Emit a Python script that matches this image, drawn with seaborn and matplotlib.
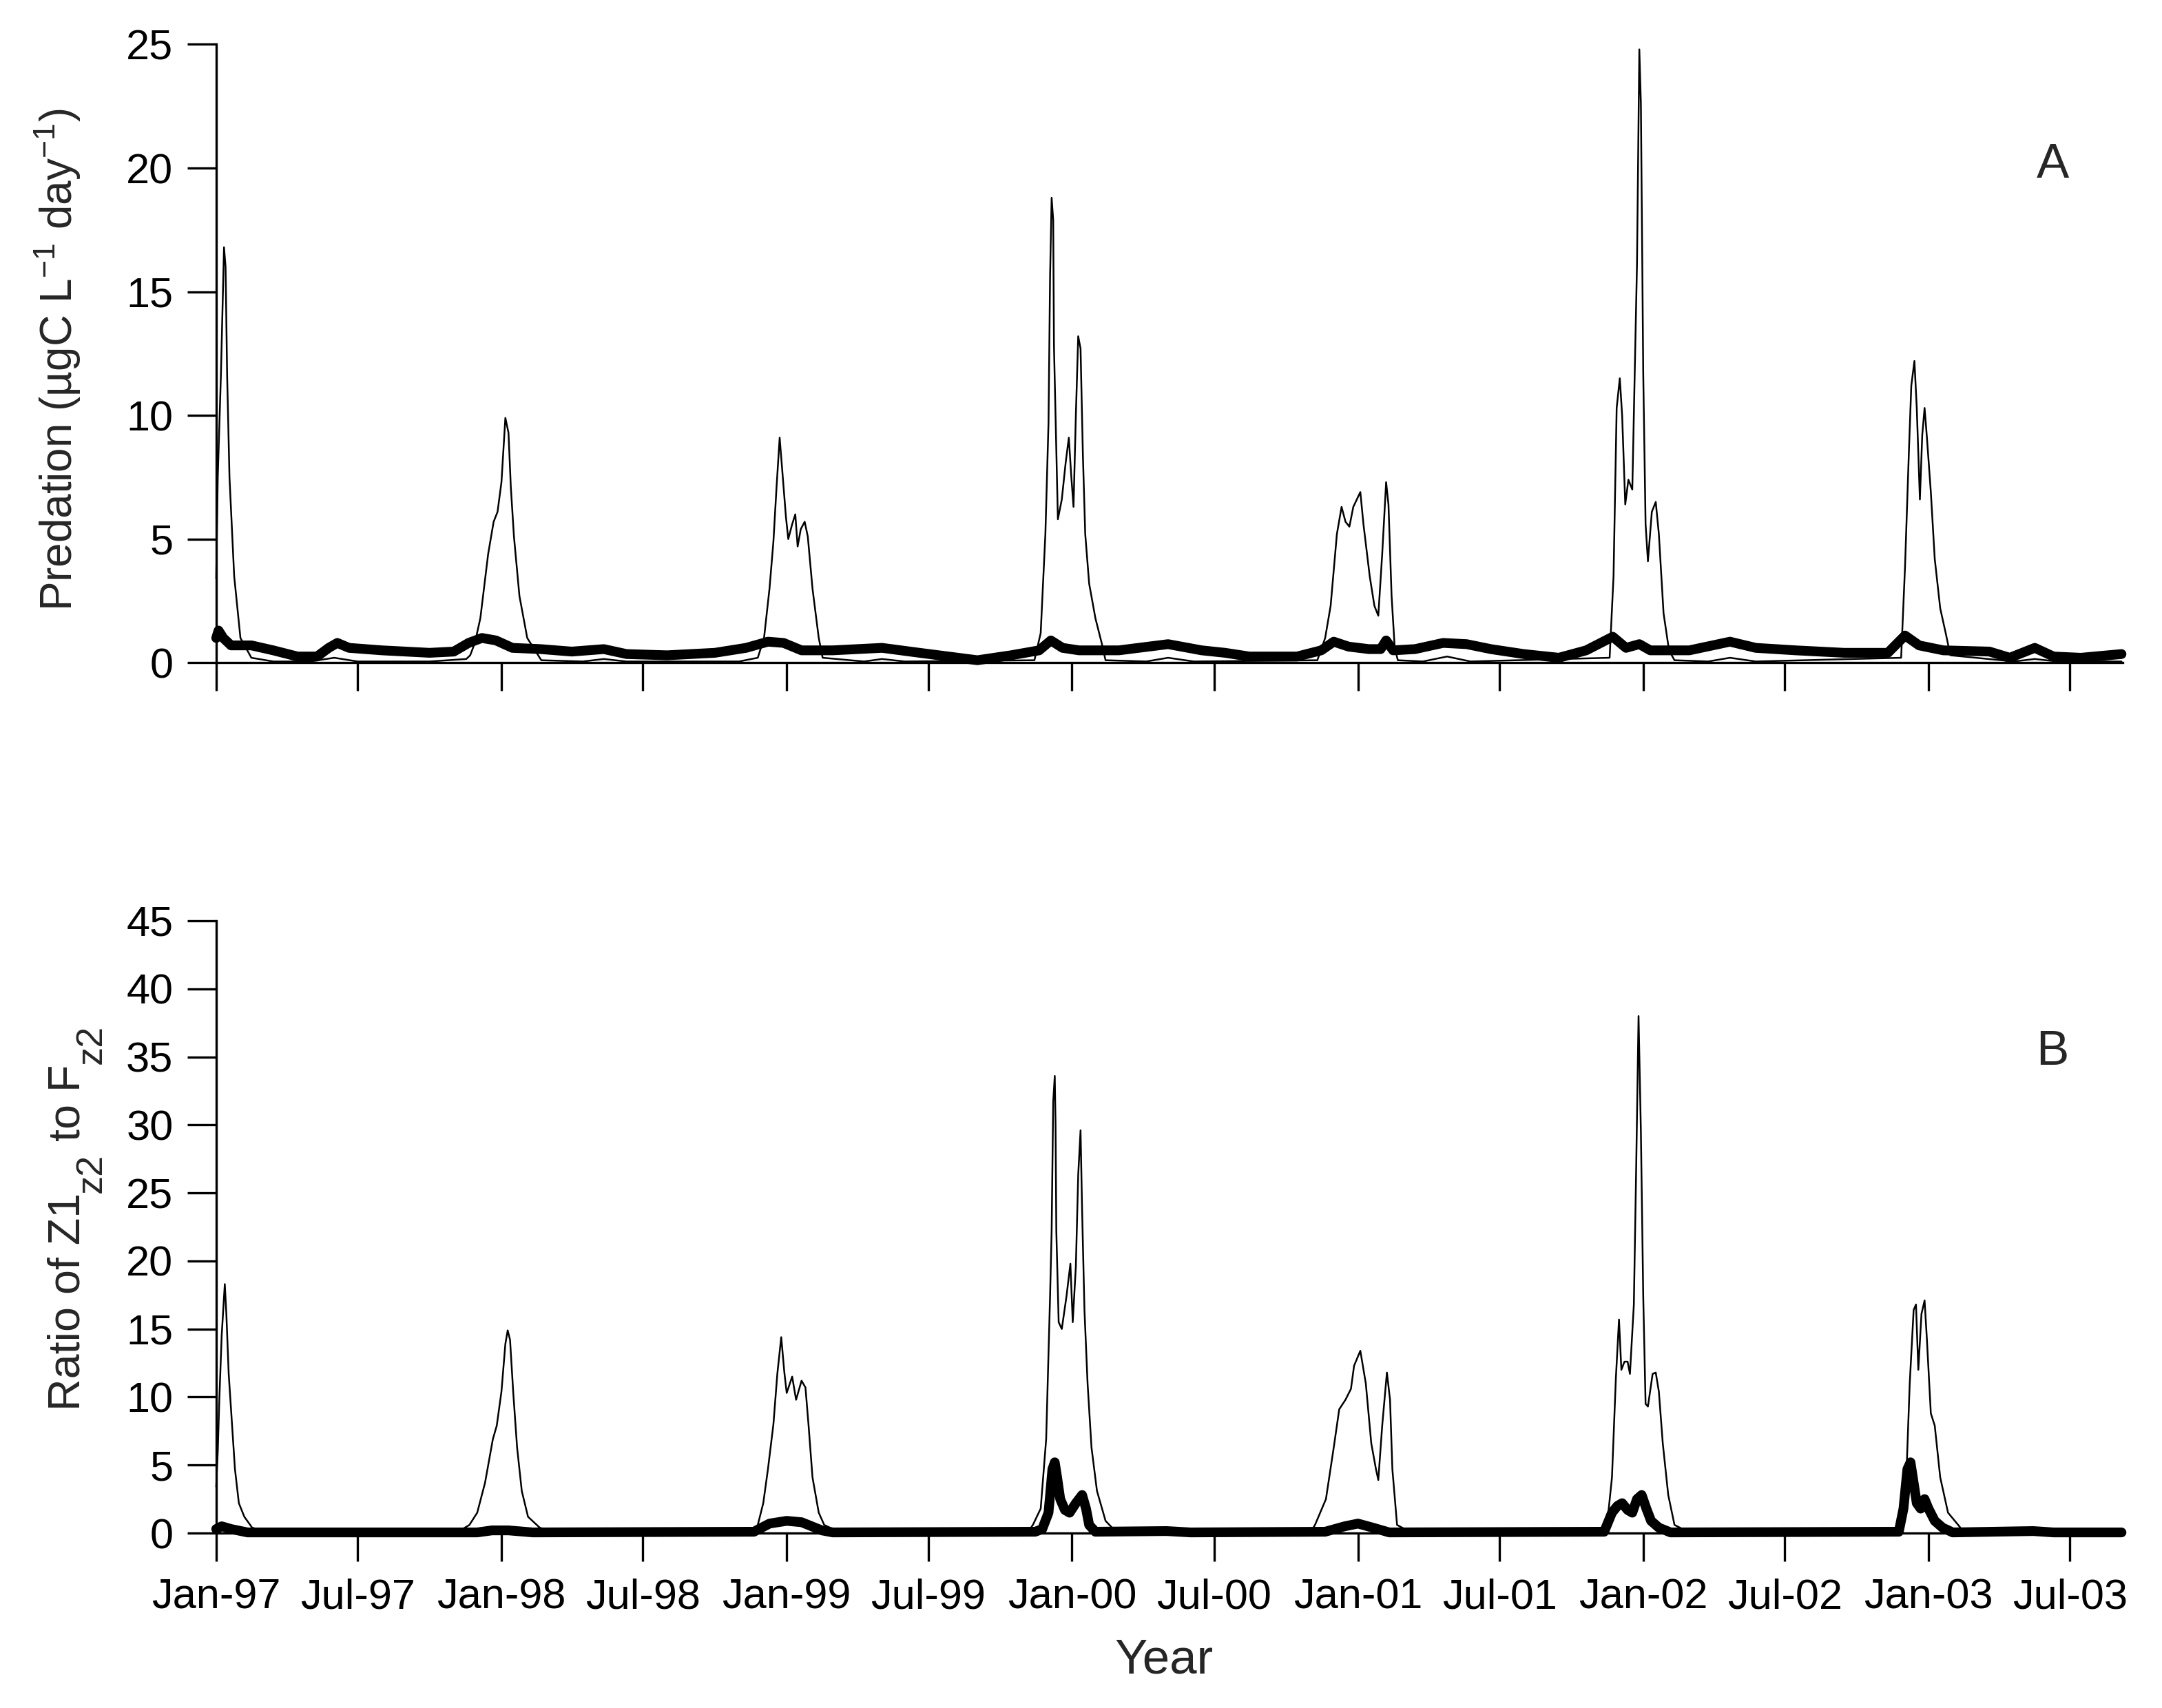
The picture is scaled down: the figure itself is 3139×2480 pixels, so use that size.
import pandas as pd
import numpy as np
import matplotlib
matplotlib.use("Agg")
import matplotlib.pyplot as plt
import matplotlib.dates as mdates
from matplotlib.transforms import IdentityTransform
import seaborn as sns

# panel A, thin line (predation, first predator)
a_thin_dates = ["1997-01-01", "1997-01-03", "1997-01-07", "1997-01-11", "1997-01-13", "1997-01-15",
                "1997-01-18", "1997-01-24", "1997-02-01", "1997-02-15", "1997-03-15", "1997-05-01",
                "1997-06-01", "1997-07-01", "1997-10-01", "1997-11-17", "1997-11-22", "1997-11-28",
                "1997-12-05", "1997-12-15", "1997-12-22", "1997-12-27", "1998-01-01", "1998-01-06",
                "1998-01-10", "1998-01-13", "1998-01-17", "1998-01-24", "1998-02-03", "1998-02-21",
                "1998-04-15", "1998-05-12", "1998-06-10", "1998-11-01", "1998-11-25", "1998-12-03",
                "1998-12-10", "1998-12-15", "1998-12-19", "1998-12-23", "1998-12-28", "1998-12-31",
                "1999-01-03", "1999-01-08", "1999-01-12", "1999-01-15", "1999-01-19", "1999-01-24",
                "1999-01-28", "1999-02-03", "1999-02-11", "1999-02-16", "1999-04-10", "1999-05-03",
                "1999-06-01", "1999-11-14", "1999-11-22", "1999-11-28", "1999-12-02", "1999-12-04",
                "1999-12-06", "1999-12-08", "1999-12-09", "1999-12-12", "1999-12-14", "1999-12-19",
                "1999-12-24", "1999-12-28", "1999-12-31", "2000-01-03", "2000-01-06", "2000-01-09",
                "2000-01-12", "2000-01-15", "2000-01-18", "2000-01-23", "2000-01-31", "2000-02-08",
                "2000-02-13", "2000-04-05", "2000-05-03", "2000-06-05", "2000-11-10", "2000-11-20",
                "2000-11-27", "2000-12-05", "2000-12-11", "2000-12-16", "2000-12-21", "2000-12-26",
                "2001-01-04", "2001-01-08", "2001-01-16", "2001-01-22", "2001-01-27", "2001-02-01",
                "2001-02-06", "2001-02-09", "2001-02-13", "2001-02-17", "2001-02-21", "2001-03-25",
                "2001-04-25", "2001-05-25", "2001-11-19", "2001-11-24", "2001-11-28", "2001-12-02",
                "2001-12-05", "2001-12-09", "2001-12-13", "2001-12-18", "2001-12-21", "2001-12-24",
                "2001-12-27", "2001-12-29", "2002-01-01", "2002-01-04", "2002-01-07", "2002-01-12",
                "2002-01-17", "2002-01-21", "2002-01-27", "2002-02-03", "2002-02-10", "2002-03-25",
                "2002-04-22", "2002-05-25", "2002-11-27", "2002-12-02", "2002-12-07", "2002-12-10",
                "2002-12-14", "2002-12-17", "2002-12-21", "2002-12-24", "2002-12-27", "2002-12-30",
                "2003-01-04", "2003-01-09", "2003-01-16", "2003-01-23", "2003-01-29", "2003-04-20",
                "2003-05-17", "2003-06-15", "2003-09-05"]
a_thin_vals = [3.4, 7.5, 11.6, 16.8, 16.0, 11.6,
               7.5, 3.5, 1.0, 0.2, 0.05, 0.05,
               0.2, 0.05, 0.05, 0.15, 0.3, 0.8,
               1.8, 4.4, 5.7, 6.1, 7.3, 9.9,
               9.3, 7.1, 5.1, 2.7, 1.0, 0.1,
               0.05, 0.15, 0.05, 0.05, 0.2, 1.0,
               3.0, 4.9, 7.1, 9.1, 7.1, 5.9,
               5.0, 5.6, 6.0, 4.7, 5.4, 5.7,
               5.1, 3.0, 1.0, 0.2, 0.05, 0.15,
               0.05, 0.1, 1.2, 5.2, 9.7, 15.6,
               18.8, 17.9, 12.8, 8.6, 5.8, 6.6,
               8.1, 9.1, 7.6, 6.3, 10.0, 13.2,
               12.7, 8.4, 5.2, 3.2, 1.8, 0.8,
               0.1, 0.05, 0.2, 0.05, 0.1, 1.0,
               2.3, 5.2, 6.3, 5.7, 5.5, 6.3,
               6.9, 5.6, 3.5, 2.3, 1.9, 4.4,
               7.3, 6.4, 2.7, 0.6, 0.1, 0.05,
               0.25, 0.05, 0.2, 3.5, 10.3, 11.5,
               10.0, 6.4, 7.4, 7.0, 11.5, 16.1,
               24.8, 22.6, 11.7, 5.6, 4.1, 6.1,
               6.5, 5.2, 2.0, 0.5, 0.1, 0.05,
               0.2, 0.05, 0.2, 3.9, 8.6, 11.2,
               12.2, 10.3, 6.6, 9.2, 10.3, 9.1,
               6.9, 4.2, 2.2, 1.2, 0.3, 0.05,
               0.15, 0.05, 0.05]

# panel A, thick line
a_thick_dates = ["1997-01-01", "1997-01-04", "1997-01-10", "1997-01-20", "1997-02-15", "1997-03-15",
                 "1997-04-15", "1997-05-10", "1997-05-25", "1997-06-05", "1997-06-20", "1997-08-01",
                 "1997-10-01", "1997-11-01", "1997-11-20", "1997-12-07", "1997-12-25", "1998-01-15",
                 "1998-02-20", "1998-04-01", "1998-05-12", "1998-06-10", "1998-08-01", "1998-10-01",
                 "1998-11-10", "1998-12-08", "1998-12-28", "1999-01-20", "1999-03-01", "1999-05-03",
                 "1999-06-20", "1999-09-02", "1999-10-15", "1999-11-20", "1999-12-05", "1999-12-20",
                 "2000-01-10", "2000-03-01", "2000-05-03", "2000-06-15", "2000-07-15", "2000-08-15",
                 "2000-10-15", "2000-11-15", "2000-12-01", "2000-12-20", "2001-01-15", "2001-01-30",
                 "2001-02-06", "2001-02-15", "2001-03-15", "2001-04-20", "2001-05-20", "2001-06-20",
                 "2001-08-01", "2001-09-15", "2001-10-20", "2001-11-23", "2001-12-10", "2001-12-27",
                 "2002-01-10", "2002-03-01", "2002-04-22", "2002-05-25", "2002-07-15", "2002-09-15",
                 "2002-11-10", "2002-12-02", "2002-12-20", "2003-01-20", "2003-03-20", "2003-04-15",
                 "2003-05-17", "2003-06-10", "2003-07-15", "2003-09-05"]
a_thick_vals = [1.0, 1.3, 1.0, 0.7, 0.7, 0.5,
                0.25, 0.25, 0.6, 0.8, 0.6, 0.5,
                0.4, 0.45, 0.8, 1.0, 0.9, 0.6,
                0.55, 0.45, 0.55, 0.35, 0.3, 0.4,
                0.6, 0.85, 0.8, 0.5, 0.5, 0.6,
                0.4, 0.1, 0.3, 0.5, 0.9, 0.6,
                0.5, 0.5, 0.75, 0.5, 0.4, 0.25,
                0.25, 0.5, 0.85, 0.65, 0.55, 0.55,
                0.9, 0.5, 0.55, 0.8, 0.75, 0.55,
                0.35, 0.2, 0.5, 1.05, 0.6, 0.75,
                0.5, 0.5, 0.85, 0.6, 0.5, 0.4,
                0.4, 1.1, 0.7, 0.5, 0.45, 0.2,
                0.6, 0.25, 0.2, 0.35]

# panel B, thin line (ratio)
b_thin_dates = ["1997-01-01", "1997-01-03", "1997-01-05", "1997-01-08", "1997-01-12", "1997-01-14",
                "1997-01-17", "1997-01-21", "1997-01-25", "1997-01-30", "1997-02-06", "1997-02-16",
                "1997-03-10", "1997-11-05", "1997-11-21", "1997-12-01", "1997-12-11", "1997-12-21",
                "1997-12-26", "1998-01-01", "1998-01-06", "1998-01-09", "1998-01-12", "1998-01-16",
                "1998-01-21", "1998-01-27", "1998-02-04", "1998-02-19", "1998-03-10", "1998-11-15",
                "1998-11-25", "1998-12-02", "1998-12-08", "1998-12-15", "1998-12-20", "1998-12-25",
                "1998-12-29", "1999-01-01", "1999-01-08", "1999-01-13", "1999-01-20", "1999-01-25",
                "1999-01-29", "1999-02-03", "1999-02-11", "1999-02-18", "1999-03-10", "1999-11-05",
                "1999-11-12", "1999-11-22", "1999-11-29", "1999-12-04", "1999-12-06", "1999-12-08",
                "1999-12-10", "1999-12-11", "1999-12-12", "1999-12-15", "1999-12-19", "1999-12-25",
                "1999-12-30", "2000-01-02", "2000-01-06", "2000-01-09", "2000-01-12", "2000-01-14",
                "2000-01-17", "2000-01-21", "2000-01-26", "2000-02-02", "2000-02-13", "2000-02-23",
                "2000-03-15", "2000-11-01", "2000-11-07", "2000-11-21", "2000-12-01", "2000-12-08",
                "2000-12-16", "2000-12-23", "2000-12-27", "2001-01-04", "2001-01-11", "2001-01-18",
                "2001-01-24", "2001-01-27", "2001-02-01", "2001-02-07", "2001-02-11", "2001-02-14",
                "2001-02-20", "2001-03-10", "2001-11-15", "2001-11-22", "2001-11-27", "2001-12-01",
                "2001-12-04", "2001-12-08", "2001-12-12", "2001-12-15", "2001-12-20", "2001-12-23",
                "2001-12-26", "2001-12-29", "2002-01-01", "2002-01-04", "2002-01-07", "2002-01-13",
                "2002-01-17", "2002-01-21", "2002-01-26", "2002-02-02", "2002-02-10", "2002-03-01",
                "2002-11-20", "2002-11-24", "2002-12-04", "2002-12-08", "2002-12-13", "2002-12-16",
                "2002-12-19", "2002-12-23", "2002-12-27", "2002-12-30", "2003-01-04", "2003-01-09",
                "2003-01-16", "2003-01-26", "2003-02-08", "2003-02-15", "2003-09-05"]
b_thin_vals = [3.4, 6.0, 9.8, 14.5, 18.3, 16.1,
               11.7, 8.2, 4.7, 2.2, 1.2, 0.4,
               0.05, 0.05, 0.6, 1.5, 3.7, 6.9,
               7.9, 10.4, 13.9, 14.9, 14.2, 10.4,
               6.3, 3.1, 1.2, 0.4, 0.05, 0.05,
               0.6, 2.2, 4.7, 8.0, 11.7, 14.4,
               11.8, 10.3, 11.5, 9.8, 11.2, 10.7,
               7.9, 4.1, 1.5, 0.6, 0.05, 0.05,
               0.6, 1.8, 6.9, 17.4, 22.2, 31.7,
               33.6, 30.1, 22.2, 15.5, 15.0, 17.4,
               19.8, 15.5, 19.6, 26.3, 29.6, 23.7,
               16.4, 11.0, 6.3, 3.1, 0.9, 0.3,
               0.05, 0.05, 0.6, 2.5, 6.3, 9.1,
               9.8, 10.6, 12.3, 13.4, 11.0, 6.6,
               4.7, 3.9, 7.9, 11.8, 9.8, 4.7,
               0.6, 0.05, 0.2, 4.1, 11.4, 15.7,
               12.0, 12.6, 12.6, 11.7, 16.8, 26.9,
               38.0, 29.5, 17.4, 9.5, 9.3, 11.7,
               11.8, 10.4, 6.6, 2.8, 0.6, 0.05,
               0.05, 0.5, 4.7, 11.0, 16.4, 16.8,
               12.0, 16.1, 17.1, 14.2, 8.8, 7.9,
               4.1, 1.5, 0.6, 0.1, 0.05]

# panel B, thick line
b_thick_dates = ["1997-01-01", "1997-01-08", "1997-01-20", "1997-02-10", "1997-12-01", "1997-12-20",
                 "1998-01-10", "1998-02-10", "1998-11-20", "1998-12-10", "1999-01-01", "1999-01-20",
                 "1999-02-15", "1999-03-01", "1999-11-15", "1999-11-24", "1999-12-02", "1999-12-07",
                 "1999-12-10", "1999-12-13", "1999-12-17", "1999-12-23", "1999-12-29", "2000-01-06",
                 "2000-01-14", "2000-01-19", "2000-01-23", "2000-01-31", "2000-05-01", "2000-06-01",
                 "2000-11-20", "2000-12-15", "2001-01-01", "2001-01-20", "2001-02-10", "2001-11-12",
                 "2001-11-22", "2001-11-29", "2001-12-05", "2001-12-12", "2001-12-18", "2001-12-24",
                 "2001-12-30", "2002-01-05", "2002-01-11", "2002-01-21", "2002-02-05", "2002-11-24",
                 "2002-11-30", "2002-12-05", "2002-12-09", "2002-12-13", "2002-12-17", "2002-12-22",
                 "2002-12-27", "2003-01-01", "2003-01-09", "2003-01-19", "2003-02-01", "2003-05-15",
                 "2003-06-10", "2003-09-05"]
b_thick_vals = [0.3, 0.5, 0.3, 0.05, 0.05, 0.2,
                0.2, 0.05, 0.1, 0.7, 0.9, 0.8,
                0.2, 0.05, 0.1, 0.3, 1.5, 4.7,
                5.2, 4.1, 2.5, 1.7, 1.5, 2.2,
                2.8, 1.8, 0.6, 0.1, 0.15, 0.05,
                0.1, 0.5, 0.7, 0.4, 0.05, 0.1,
                1.5, 2.0, 2.2, 1.7, 1.5, 2.5,
                2.8, 1.8, 0.9, 0.4, 0.05, 0.1,
                1.8, 4.7, 5.2, 3.7, 2.2, 1.8,
                2.5, 1.8, 0.9, 0.4, 0.05, 0.15,
                0.05, 0.05]

tick_dates = pd.date_range("1997-01-01", "2003-07-01", freq="6MS")

# pieces of the panel B y label: text, size, subscript shift (px)
b_label_parts = [("Ratio of Z1", 15.5, 0), ("z2", 13, 31), (" to F", 15.5, 0), ("z2", 13, 31)]

sns.set_theme(style="ticks")
plt.rcParams["font.family"] = ["Liberation Sans", "DejaVu Sans"]
plt.rcParams["mathtext.fontset"] = "custom"
plt.rcParams["mathtext.rm"] = "Liberation Sans"
plt.rcParams["mathtext.it"] = "Liberation Sans:italic"

fig = plt.figure(figsize=(3139 / 300, 2480 / 300), dpi=300)
ax_a = fig.add_axes([0.100, 0.612, 0.882, 0.362])
ax_b = fig.add_axes([0.100, 0.1024, 0.882, 0.3585])

panels = [
    (ax_a, a_thin_dates, a_thin_vals, a_thick_dates, a_thick_vals, 25, 5, "A", 0.804),
    (ax_b, b_thin_dates, b_thin_vals, b_thick_dates, b_thick_vals, 45, 5, "B", 0.785),
]

for ax, td, tv, kd, kv, ymax, ystep, letter, ly in panels:
    sns.lineplot(x=pd.to_datetime(td), y=tv, ax=ax, color="black", linewidth=0.6,
                 estimator=None, clip_on=False)
    sns.lineplot(x=pd.to_datetime(kd), y=kv, ax=ax, color="black", linewidth=3.4,
                 estimator=None, clip_on=False, solid_capstyle="round")
    ax.set_xlim(pd.Timestamp("1997-01-01"), pd.Timestamp("2003-09-07"))
    ax.set_ylim(0, ymax)
    ax.set_yticks(np.arange(0, ymax + 1, ystep))
    ax.set_xticks(tick_dates)
    ax.xaxis.set_major_formatter(mdates.DateFormatter("%b-%y"))
    sns.despine(ax=ax)
    for s in ["left", "bottom"]:
        ax.spines[s].set_linewidth(0.8)
        ax.spines[s].set_color("black")
    ax.tick_params(axis="y", direction="out", length=10, width=0.8, pad=5, labelsize=14.7,
                   colors="black")
    ax.tick_params(axis="x", direction="out", length=9.8, width=0.8, pad=6, labelsize=14.7,
                   colors="black")
    ax.text(0.963, ly, letter, transform=ax.transAxes, fontsize=17, ha="center", va="center")
    ax.set_xlabel("")
    ax.set_ylabel("")

ax_a.tick_params(axis="x", labelbottom=False)
ax_a.set_ylabel("Predation (µgC L$^{-1}$ day$^{-1}$)", fontsize=15.3)
ax_a.yaxis.set_label_coords(-0.07, 0.49)
ax_b.set_xlabel("Year", fontsize=17)
ax_b.xaxis.set_label_coords(0.497, -0.171)

# panel B y label built from pieces so the subscripts stay large
renderer = fig.canvas.get_renderer()
parts = []
for s, fs, dx in b_label_parts:
    t = fig.text(0, 0, s, fontsize=fs, rotation=90, rotation_mode="anchor",
                 ha="left", va="baseline", transform=IdentityTransform())
    parts.append((t, dx))
lengths = [t.get_window_extent(renderer).height for t, dx in parts]
y = (2480 - 1768) - sum(lengths) / 2
for (t, dx), L in zip(parts, lengths):
    t.set_position((116 + dx, y))
    y += L

fig.savefig("out.png", dpi=300)
